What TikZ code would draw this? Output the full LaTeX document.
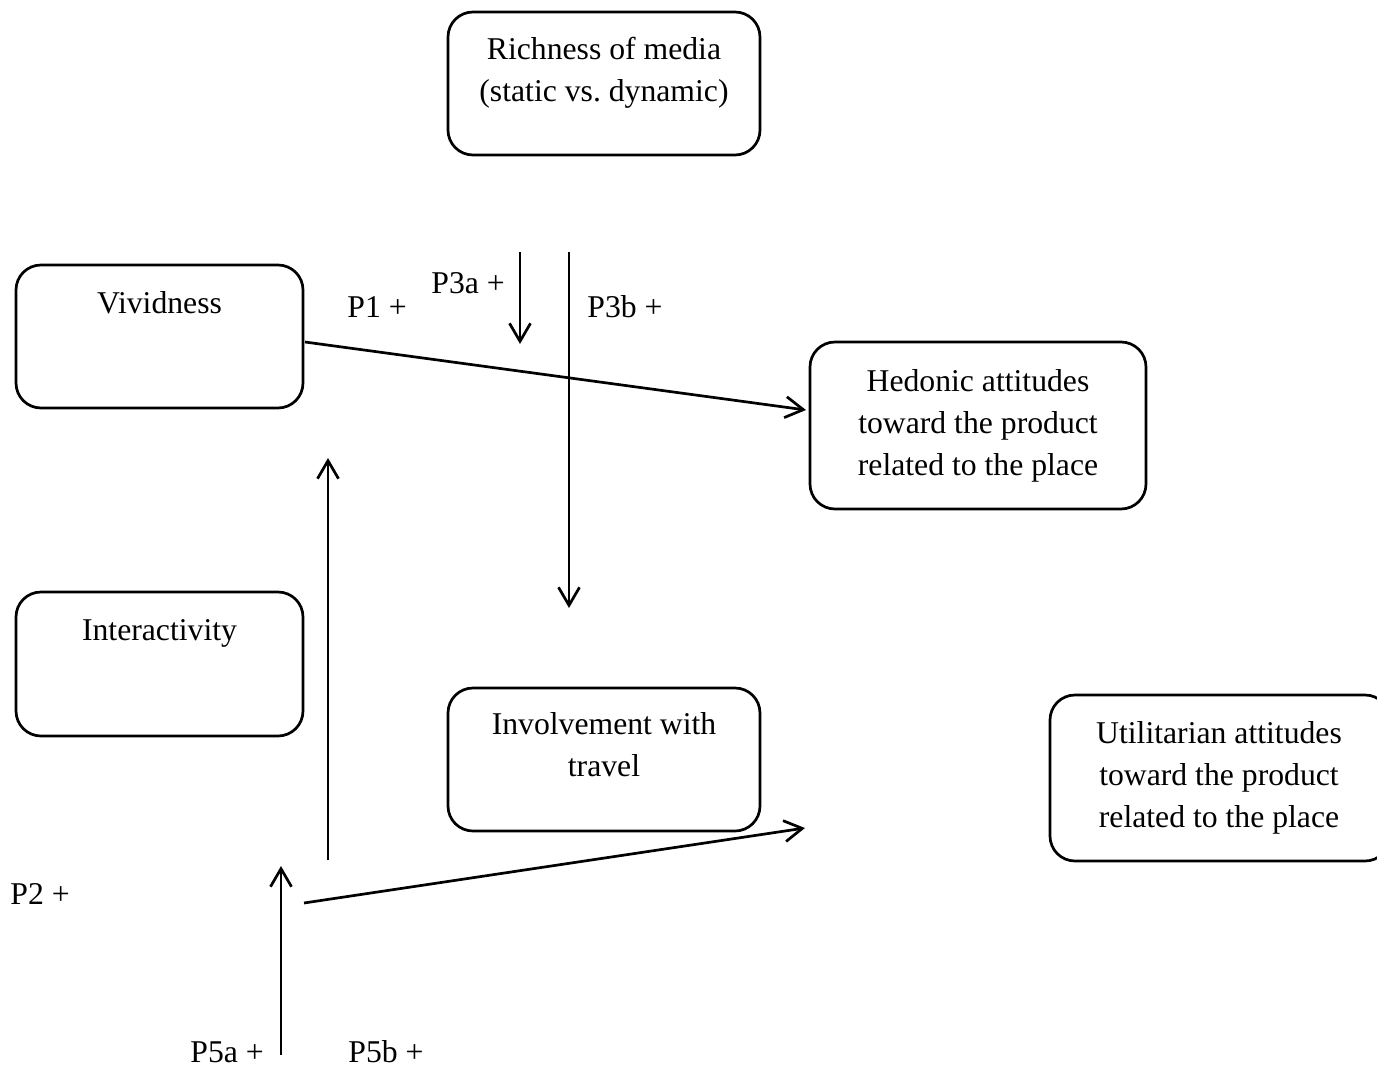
\documentclass[tikz,border=0pt]{standalone}
\usepackage{fontspec}
\setmainfont{Liberation Serif}
\usetikzlibrary{arrows.meta}
\frenchspacing
\begin{document}
\begin{tikzpicture}[x=0.5pt,y=-0.5pt,
  box/.style={draw, line width=1.35pt, rounded corners=12.5pt, inner sep=0pt},
  txt/.style={font=\fontsize{15.85pt}{21pt}\selectfont, align=center, inner sep=0pt, anchor=base},
  lbl/.style={font=\fontsize{15.85pt}{21pt}\selectfont, inner sep=0pt, anchor=base west},
  link/.style={line width=1.35pt, -{Straight Barb[length=9pt,width=10.5pt,line width=1.35pt]}}]
\useasboundingbox (0,0) rectangle (1377,1066);

% boxes
\node[box, minimum width=156pt, minimum height=71.5pt] (rich) at (604,83.5) {};
\node[box, minimum width=143.5pt, minimum height=71.5pt] (viv) at (159.5,336.5) {};
\node[box, minimum width=168pt, minimum height=83.5pt] (hed) at (978,425.5) {};
\node[box, minimum width=143.5pt, minimum height=72pt] (inter) at (159.5,664) {};
\node[box, minimum width=156pt, minimum height=71.5pt] (inv) at (604,759.5) {};
\node[box, minimum width=170pt, minimum height=83pt] (util) at (1220,778) {};

% box texts (base anchor sits on the last line)
\node[txt] (richT) at (604,101) {Richness of media\\(static vs. dynamic)};
\node[txt] (vivT) at (159.5,313) {Vividness};
\node[txt] (hedT) at (978,475) {Hedonic attitudes\\toward the product\\related to the place};
\node[txt] (interT) at (159.5,640) {Interactivity};
\node[txt] (invT) at (604,776) {Involvement with\\travel};
\node[txt] (utilT) at (1219,827) {Utilitarian attitudes\\toward the product\\related to the place};

% path labels
\node[lbl] (p1) at (347,317) {P1 +};
\node[lbl] (p3a) at (431,293) {P3a +};
\node[lbl] (p3b) at (587,317) {P3b +};
\node[lbl] (p2) at (10,904) {P2 +};
\node[lbl] (p5a) at (190,1062) {P5a +};
\node[lbl] (p5b) at (348,1062) {P5b +};

% connector end points
\coordinate (a3s) at (520,252);
\coordinate (a3e) at (520,344);
\coordinate (b3s) at (569,252);
\coordinate (b3e) at (569,608);
\coordinate (v1s) at (305,342);
\coordinate (v1e) at (806,410);
\coordinate (u2s) at (328,860);
\coordinate (u2e) at (328,458);
\coordinate (u5s) at (281,1055);
\coordinate (u5e) at (281,866);
\coordinate (s5s) at (304,903);
\coordinate (s5e) at (805,828);

% connectors
\draw[link] (a3s) -- (a3e);
\draw[link] (b3s) -- (b3e);
\draw[link] (v1s) -- (v1e);
\draw[link] (u2s) -- (u2e);
\draw[link] (u5s) -- (u5e);
\draw[link] (s5s) -- (s5e);
\end{tikzpicture}
\end{document}
